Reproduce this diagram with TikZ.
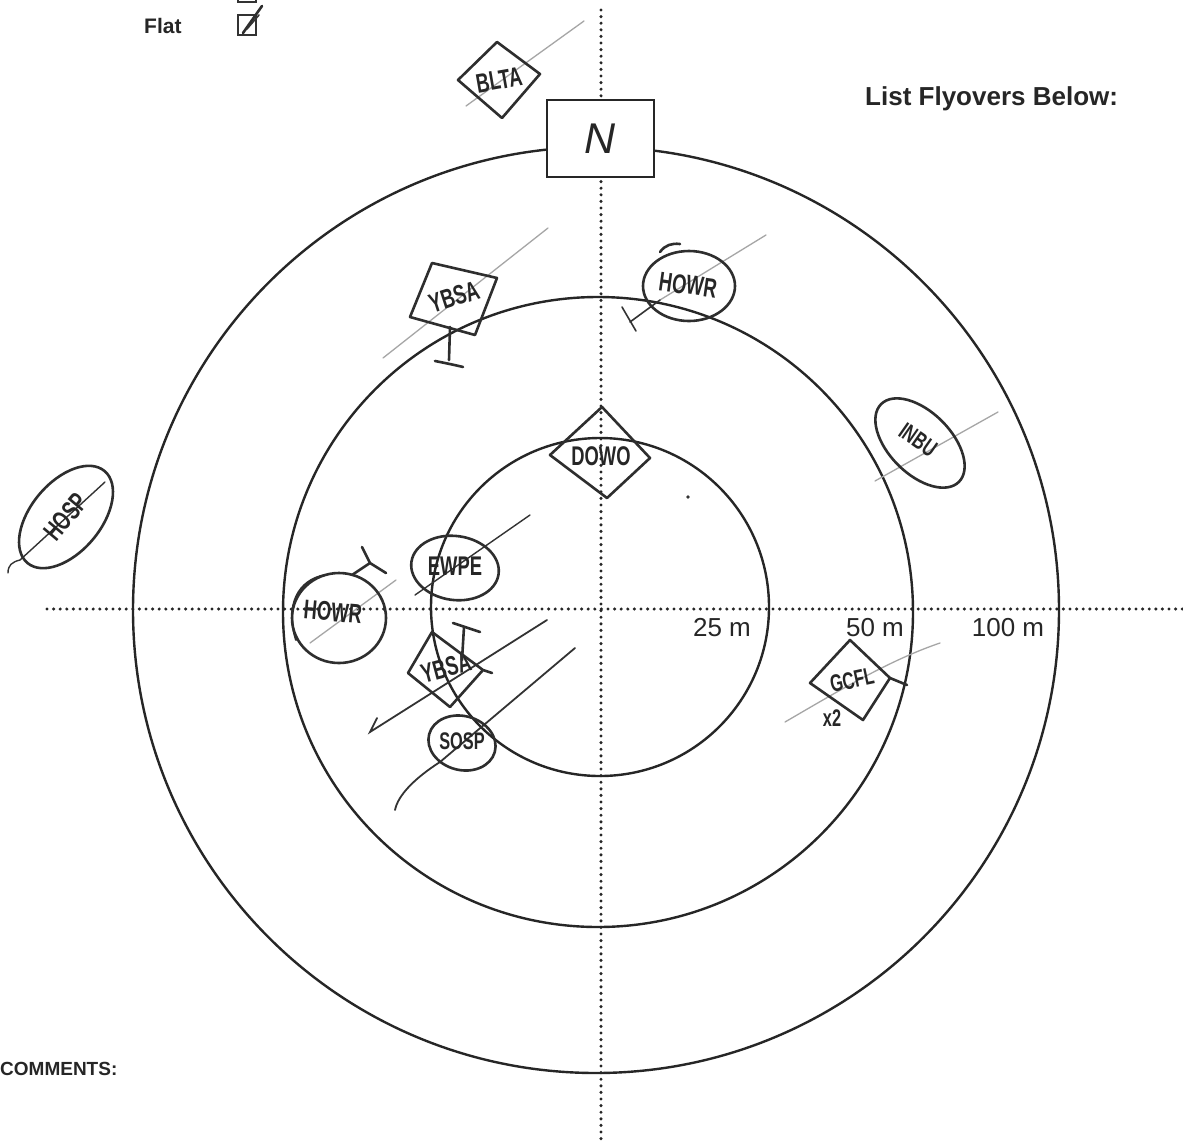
\documentclass[tikz,border=0pt]{standalone}
\usepackage{fontspec}
\setmainfont{Liberation Sans}
\newfontfamily\hand{Liberation Sans}[FakeStretch=0.68]
\usetikzlibrary{shapes.geometric}
\tikzset{
  ring/.style={draw=black!85, line width=2.4pt},
  dotline/.style={draw=black!85, line width=3.4pt, dash pattern=on 0pt off 6.6pt, line cap=round},
  ink/.style={draw=black!82, line width=2.6pt, line cap=round, line join=round},
  thinink/.style={draw=black!80, line width=1.6pt, line cap=round},
  fly/.style={draw=black!35, line width=1.3pt, line cap=round},
  lbl/.style={inner sep=0pt, font=\fontsize{26}{30}\selectfont, text=black!85},
  blbl/.style={inner sep=0pt, font=\bfseries\fontsize{26}{30}\selectfont, text=black!85},
  htxt/.style={inner sep=0pt, font=\hand\bfseries\fontsize{27}{30}\selectfont, text=black!85},
  hsmall/.style={htxt, font=\hand\bfseries\fontsize{24}{26}\selectfont},
  oval/.style={ink, ellipse, inner sep=0pt},
}
\begin{document}
\begin{tikzpicture}[x=1pt,y=-1pt]
\useasboundingbox (0,0) rectangle (1183,1141);
\fill[white] (0,0) rectangle (1183,1141);

% dotted axes
\coordinate (hl) at (47,609);
\coordinate (hr) at (1183,609);
\coordinate (vt) at (601,10);
\coordinate (vb) at (601,1141);
\draw[dotline] (hl) -- (hr);
\draw[dotline] (vt) -- (vb);

% rings
\draw[ring] (600,607) circle[radius=169];
\draw[ring] (598,612) circle[radius=315];
\draw[ring] (596,610) circle[radius=463];

% north box
\node[draw=black!85, line width=2.2pt, fill=white, minimum width=107, minimum height=77, inner sep=0pt,
      font=\itshape\fontsize{43}{46}\selectfont, text=black!85] (nbox) at (600.5,138.5) {N};

% form labels
\node[blbl, anchor=base west] (flyov) at (865,105) {List Flyovers Below:};
\node[blbl, anchor=base west, font=\bfseries\fontsize{21}{24}\selectfont] (flat) at (144,33) {Flat};
\node[blbl, anchor=base west, font=\bfseries\fontsize{19}{22}\selectfont] (comm) at (0,1075) {COMMENTS:};
\node[lbl] (r25) at (722,628) {25 m};
\node[lbl] (r50) at (875,628) {50 m};
\node[lbl] (r100) at (1008,628) {100 m};

% checkboxes
\draw[draw=black!80, line width=2pt] (238,-20) rectangle (256,2);
\draw[draw=black!80, line width=2pt] (238,15) rectangle (256,35);
\draw[ink] (243,33) -- (262,6);
\draw[thinink] (247,29) -- (259,15);

% ---- flight lines
\draw[fly] (466,106) -- (584,21);
\draw[fly] (383,358) -- (548,228);
\draw[fly] (766,235) -- (660,300);
\draw[thinink] (660,300) -- (630,322);
\draw[thinink] (622,307) -- (636,331);
\draw[fly] (875,481) -- (998,412);
\draw[fly] (785,722) .. controls (840,690) and (890,660) .. (940,643);
\draw[fly] (310,643) -- (396,580);
\draw[thinink, line width=1.4pt] (8,573) .. controls (8,565) and (12,562) .. (20,560) -- (105,482);
\draw[thinink, line width=1.4pt] (415,595) -- (530,515);
\draw[thinink, line width=1.8pt] (547,620) -- (370,732) -- (377,718);
\draw[thinink, line width=1.8pt] (395,810) .. controls (398,795) and (415,778) .. (440,762) -- (575,648);

% ---- BLTA diamond
\draw[ink] (497,42) -- (540,74) -- (502,118) -- (458,80) -- cycle;
\node[htxt, rotate=10] (blta) at (499,80) {BLTA};

% ---- YBSA upper (square)
\draw[ink] (432,263) -- (497,278) -- (475,335) -- (410,317) -- cycle;
\node[htxt, rotate=18] (ybsa1) at (454,297) {YBSA};
\draw[ink] (450,327) -- (449,360);
\draw[ink] (435,361) .. controls (445,363) and (455,365) .. (463,367);

% ---- HOWR upper
\node[oval, minimum width=92, minimum height=70] (howr1e) at (689,286) {};
\draw[ink] (660,252) .. controls (665,245) and (672,243) .. (680,244);
\node[htxt, rotate=-8] (howr1) at (688,285) {HOWR};

% ---- DOWO diamond
\draw[ink] (602,407) -- (650,458) -- (607,498) -- (550,455) -- cycle;
\node[htxt] (dowo) at (601,456) {DOWO};
\fill[black!80] (688,497) circle[radius=1.8];

% ---- INBU
\node[oval, minimum width=110, minimum height=62, rotate=-45] (inbue) at (920,443) {};
\node[hsmall, rotate=-35] (inbu) at (918,440) {INBU};

% ---- GCFL diamond
\draw[ink] (907,685) -- (890,678) -- (863,720) -- (810,683) -- (850,640) -- (890,678);
\node[hsmall, rotate=12] (gcfl) at (852,680) {GCFL};
\node[hsmall] (x2) at (832,718) {x2};

% ---- HOSP
\node[oval, minimum width=120, minimum height=70, rotate=50] (hospe) at (66,517) {};
\node[htxt, rotate=50] (hosp) at (66,517) {HOSP};

% ---- HOWR left
\node[oval, minimum width=94, minimum height=90] (howr2e) at (339,618) {};
\draw[ink, line width=2pt] (296,640) .. controls (285,605) and (298,580) .. (325,575);
\node[htxt, rotate=-5] (howr2) at (333,612) {HOWR};
\draw[ink] (362,547) -- (370,563) -- (386,573);
\draw[ink] (370,563) -- (352,575);

% ---- EWPE
\node[oval, minimum width=88, minimum height=64, rotate=-8] (ewpee) at (455,568) {};
\node[htxt] (ewpe) at (455,566) {EWPE};

% ---- YBSA lower diamond
\draw[ink] (492,673) -- (483,670) -- (450,707) -- (408,673) -- (432,632) -- (483,670);
\node[htxt, rotate=15] (ybsa2) at (446,668) {YBSA};
\draw[ink] (453,623) -- (480,632);
\draw[ink] (464,627) -- (462,660);

% ---- SOSP
\node[oval, minimum width=68, minimum height=54, rotate=-15] (sospe) at (462,743) {};
\node[hsmall] (sosp) at (462,741) {SOSP};
\end{tikzpicture}
\end{document}
